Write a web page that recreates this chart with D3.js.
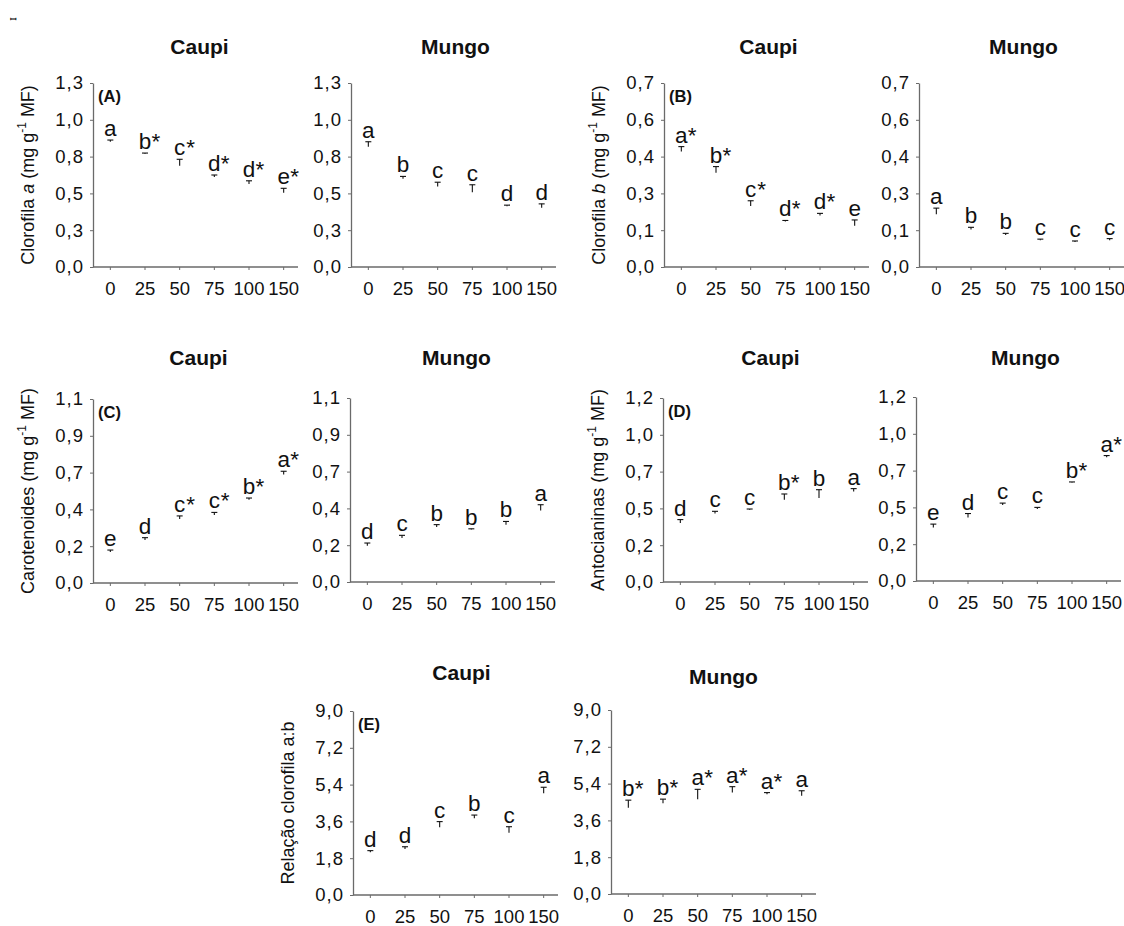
<!DOCTYPE html>
<html><head><meta charset="utf-8">
<script src="https://cdn.jsdelivr.net/npm/d3@7"></script>
<style>
body{margin:0;background:#fff;}
text{font-family:"Liberation Sans",Arial,sans-serif;}
</style></head>
<body><svg id="c" width="1124" height="926"></svg>
<script>
const doses = ["0","25","50","75","100","150"];

const meanA_caupi = [0.885, 0.800, 0.716, 0.636, 0.587, 0.525];
const errA_caupi  = [0.012, 0.005, 0.045, 0.014, 0.022, 0.031];
const letA_caupi  = ["a","b*","c*","d*","d*","e*"];
const meanA_mungo = [0.850, 0.624, 0.569, 0.529, 0.430, 0.418];
const errA_mungo  = [0.035, 0.016, 0.030, 0.052, 0.007, 0.028];
const letA_mungo  = ["a","b","c","c","d","d"];

const meanB_caupi = [0.439, 0.359, 0.232, 0.173, 0.196, 0.157];
const errB_caupi  = [0.019, 0.023, 0.020, 0.004, 0.008, 0.022];
const letB_caupi  = ["a*","b*","c*","d*","d*","e"];
const meanB_mungo = [0.201, 0.143, 0.122, 0.102, 0.095, 0.102];
const errB_mungo  = [0.023, 0.008, 0.006, 0.004, 0.004, 0.006];
const letB_mungo  = ["a","b","b","c","c","c"];

const meanC_caupi = [0.185, 0.257, 0.383, 0.406, 0.498, 0.648];
const errC_caupi  = [0.012, 0.014, 0.018, 0.016, 0.010, 0.020];
const letC_caupi  = ["e","d","c*","c*","b*","a*"];
const meanC_mungo = [0.217, 0.263, 0.329, 0.314, 0.342, 0.428];
const errC_mungo  = [0.016, 0.016, 0.014, 0.004, 0.020, 0.034];
const letC_mungo  = ["d","c","b","b","b","a"];

const meanD_caupi = [0.385, 0.446, 0.472, 0.537, 0.548, 0.591];
const errD_caupi  = [0.022, 0.015, 0.004, 0.037, 0.054, 0.018];
const letD_caupi  = ["d","c","c","b*","b","a"];
const meanD_mungo = [0.349, 0.414, 0.495, 0.469, 0.643, 0.807];
const errD_mungo  = [0.022, 0.026, 0.013, 0.011, 0.003, 0.011];
const letD_mungo  = ["e","d","c","c","b*","a*"];

const meanE_caupi = [2.09, 2.25, 3.31, 3.75, 3.05, 4.98];
const errE_caupi  = [0.08, 0.11, 0.28, 0.16, 0.29, 0.29];
const letE_caupi  = ["d","d","c","b","c","a"];
const meanE_mungo = [4.22, 4.44, 4.63, 4.97, 4.88, 4.81];
const errE_mungo  = [0.37, 0.20, 0.49, 0.28, 0.08, 0.24];
const letE_mungo  = ["b*","b*","a*","a*","a*","a"];

const yMaxA = 1.3, yMaxB = 0.7, yMaxC = 1.1, yMaxD = 1.2, yMaxE = 9.0;
const ticksA = ["0,0","0,3","0,5","0,8","1,0","1,3"];
const ticksB = ["0,0","0,1","0,3","0,4","0,6","0,7"];
const ticksC = ["0,0","0,2","0,4","0,7","0,9","1,1"];
const ticksD = ["0,0","0,2","0,5","0,7","1,0","1,2"];
const ticksE = ["0,0","1,8","3,6","5,4","7,2","9,0"];

const titleCaupi = "Caupi", titleMungo = "Mungo";

const W = 205, H = 184;
const svg = d3.select("#c");

// tiny mark top-left
svg.append("text").attr("x",10).attr("y",22).attr("font-size",8).attr("font-weight","bold").text("ꟷ");

const panels = [
 {x:93, y:83, mean:meanA_caupi, err:errA_caupi, let:letA_caupi, max:yMaxA, ticks:ticksA, title:titleCaupi, tdx:4, tY:54, tag:"(A)", ylab:["Clorofila ","a"," (mg g","-1"," MF)"]},
 {x:351, y:83, mean:meanA_mungo, err:errA_mungo, let:letA_mungo, max:yMaxA, ticks:ticksA, title:titleMungo, tdx:2, tY:54},
 {x:664, y:83, mean:meanB_caupi, err:errB_caupi, let:letB_caupi, max:yMaxB, ticks:ticksB, title:titleCaupi, tdx:2, tY:54, tag:"(B)", ylab:["Clorofila ","b"," (mg g","-1"," MF)"]},
 {x:919, y:83, mean:meanB_mungo, err:errB_mungo, let:letB_mungo, max:yMaxB, ticks:ticksB, title:titleMungo, tdx:2, tY:54},
 {x:93, y:399, mean:meanC_caupi, err:errC_caupi, let:letC_caupi, max:yMaxC, ticks:ticksC, title:titleCaupi, tdx:3, tY:365, tag:"(C)", ylab:["Carotenoides",""," (mg g","-1"," MF)"]},
 {x:350, y:398, mean:meanC_mungo, err:errC_mungo, let:letC_mungo, max:yMaxC, ticks:ticksC, title:titleMungo, tdx:4, tY:365},
 {x:663, y:398, mean:meanD_caupi, err:errD_caupi, let:letD_caupi, max:yMaxD, ticks:ticksD, title:titleCaupi, tdx:5, tY:365, tag:"(D)", ylab:["Antocianinas",""," (mg g","-1"," MF)"]},
 {x:916, y:397, mean:meanD_mungo, err:errD_mungo, let:letD_mungo, max:yMaxD, ticks:ticksD, title:titleMungo, tdx:7, tY:365},
 {x:353, y:711, mean:meanE_caupi, err:errE_caupi, let:letE_caupi, max:yMaxE, ticks:ticksE, title:titleCaupi, tdx:6, tY:680, tag:"(E)", ylab:["Relação clorofila a:b","","","",""]},
 {x:611, y:710, mean:meanE_mungo, err:errE_mungo, let:letE_mungo, max:yMaxE, ticks:ticksE, title:titleMungo, tdx:10, tY:684},
];

panels.forEach(p => {
  const g = svg.append("g").attr("transform",`translate(${p.x},${p.y})`);
  const x = d3.scaleBand().domain(doses).range([0, 208]).paddingInner(0).paddingOuter(0);
  const y = d3.scaleLinear().domain([0, p.max]).range([H, 0]);
  const tickVals = p.ticks.map((t,i) => p.max*i/(p.ticks.length-1));

  // y axis
  const ya = g.append("g").call(d3.axisLeft(y).tickValues(tickVals).tickSize(3).tickPadding(6)
      .tickFormat((d,i)=>p.ticks[i]).tickSizeOuter(0));
  ya.select(".domain").attr("stroke","#6a6a6a").attr("stroke-width",1.3);
  ya.selectAll(".tick line").attr("stroke","#6a6a6a");
  ya.selectAll(".tick text").attr("font-size",18.5).attr("fill","#111").attr("letter-spacing","1px")
    .attr("font-family","'Liberation Sans',Arial,sans-serif");

  // x axis
  const xa = g.append("g").attr("transform",`translate(0,${H})`)
    .call(d3.axisBottom(x).tickSize(3).tickPadding(12).tickSizeOuter(0));
  xa.select(".domain").remove();
  xa.append("line").attr("x1",0).attr("x2",W).attr("y1",0).attr("y2",0)
    .attr("stroke","#6a6a6a").attr("stroke-width",1.3);
  xa.selectAll(".tick line").attr("stroke","#6a6a6a");
  xa.selectAll(".tick text").attr("font-size",18.5).attr("fill","#111")
    .attr("font-family","'Liberation Sans',Arial,sans-serif");

  // error bars
  const eb = g.selectAll(".eb").data(doses).enter().append("g");
  eb.append("line")
    .attr("x1",d=>x(d)+x.bandwidth()/2).attr("x2",d=>x(d)+x.bandwidth()/2)
    .attr("y1",(d,i)=>y(p.mean[i])).attr("y2",(d,i)=>y(p.mean[i]+p.err[i]))
    .attr("stroke","#111").attr("stroke-width",1.1);
  eb.append("line")
    .attr("x1",d=>x(d)+x.bandwidth()/2-3).attr("x2",d=>x(d)+x.bandwidth()/2+3)
    .attr("y1",(d,i)=>y(p.mean[i]+p.err[i])).attr("y2",(d,i)=>y(p.mean[i]+p.err[i]))
    .attr("stroke","#111").attr("stroke-width",1.1);

  // letters
  doses.forEach((d,i)=>{
    const cx = x(d)+x.bandwidth()/2;
    const cy = y(p.mean[i]+p.err[i]) - 4;
    const s = p.let[i];
    const letter = s.replace("*","");
    g.append("text").attr("x",cx).attr("y",cy).attr("text-anchor","middle")
      .attr("font-size",22.5).attr("fill","#111").text(letter);
    if (s.includes("*")) {
      g.append("text").attr("x",cx+6.5).attr("y",cy).attr("font-size",22.5).attr("fill","#111").text("*");
    }
  });

  // title
  svg.append("text").attr("x",p.x+W/2+p.tdx).attr("y",p.tY).attr("text-anchor","middle")
    .attr("font-size",21).attr("font-weight","bold").attr("fill","#111").text(p.title);

  if (p.tag) {
    g.append("text").attr("x",5).attr("y",19).attr("font-size",16.5).attr("font-weight","bold")
      .attr("fill","#111").text(p.tag);
  }
  if (p.ylab) {
    const t = g.append("text").attr("transform",`translate(-59,${H/2}) rotate(-90)`)
      .attr("text-anchor","middle").attr("font-size",18).attr("fill","#111");
    t.append("tspan").text(p.ylab[0]);
    if (p.ylab[1]) t.append("tspan").attr("font-style","italic").text(p.ylab[1]);
    if (p.ylab[2]) {
      t.append("tspan").text(p.ylab[2]);
      t.append("tspan").attr("font-size",12).attr("dy",-8).text(p.ylab[3]);
      t.append("tspan").attr("dy",8).text(p.ylab[4]);
    }
  }
});
</script></body></html>
